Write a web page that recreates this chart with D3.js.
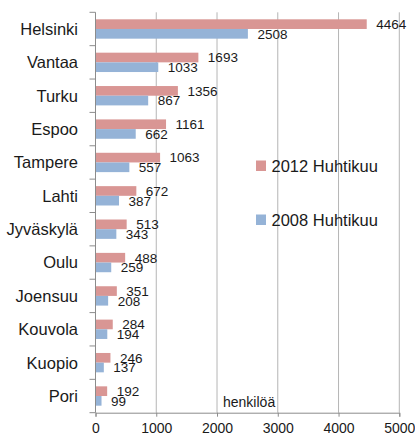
<!DOCTYPE html>
<html>
<head>
<meta charset="utf-8">
<script src="https://d3js.org/d3.v7.min.js"></script>
<style>
  body { margin: 0; background: #fff; }
  text { font-family: "Liberation Sans", Arial, sans-serif; fill: #1a1a1a; }
</style>
</head>
<body>
<div id="chart"></div>
<script>
// Datos del gráfico
var kaupungit = ["Helsinki", "Vantaa", "Turku", "Espoo", "Tampere", "Lahti",
    "Jyväskylä", "Oulu", "Joensuu", "Kouvola", "Kuopio", "Pori"];
var arvot2012 = [4464, 1693, 1356, 1161, 1063, 672, 513, 488, 351, 284, 246, 192];
var arvot2008 = [2508, 1033, 867, 662, 557, 387, 343, 259, 208, 194, 137, 99];
var sarjat = ["2012 Huhtikuu", "2008 Huhtikuu"];
var xTicks = [0, 1000, 2000, 3000, 4000, 5000];

var colors = ["#d99694", "#95b3d7"];

var margin = { top: 12.3, right: 15.7, bottom: 23.3, left: 95.5 },
    width = 415 - margin.left - margin.right,
    height = 436 - margin.top - margin.bottom;

var svg = d3.select("#chart").append("svg")
    .attr("width", 415)
    .attr("height", 436)
    .append("g")
    .attr("transform", "translate(" + margin.left + "," + margin.top + ")");

var x = d3.scaleLinear().domain([0, 5000]).range([0, width]);

var y = d3.scaleBand()
    .domain(kaupungit)
    .range([0, height])
    .paddingInner(0.42)
    .paddingOuter(0.21);

var band = height / kaupungit.length;

// Grid vertical
svg.append("g")
    .selectAll("line")
    .data(xTicks.slice(1))
    .enter().append("line")
    .attr("x1", function (d) { return x(d); })
    .attr("x2", function (d) { return x(d); })
    .attr("y1", 0)
    .attr("y2", height)
    .attr("stroke", "#b5b5b5")
    .attr("stroke-width", 1);

// Barras y etiquetas
var barH = y.bandwidth() / 2;
var series = [arvot2012, arvot2008];
series.forEach(function (vals, s) {
    svg.selectAll(".bar" + s)
        .data(vals)
        .enter().append("rect")
        .attr("class", "bar" + s)
        .attr("x", x(0))
        .attr("y", function (d, i) { return y(kaupungit[i]) + s * barH; })
        .attr("width", function (d) { return x(d) - x(0); })
        .attr("height", barH)
        .attr("fill", colors[s]);

    svg.selectAll(".lab" + s)
        .data(vals)
        .enter().append("text")
        .attr("class", "lab" + s)
        .attr("x", function (d) { return x(d) + 9.5; })
        .attr("y", function (d, i) { return y(kaupungit[i]) + s * barH + barH / 2; })
        .attr("dy", "0.36em")
        .style("font-size", "13.5px")
        .text(function (d) { return d; });
});

// Eje Y
svg.append("line")
    .attr("x1", 0).attr("x2", 0)
    .attr("y1", 0).attr("y2", height)
    .attr("stroke", "#8c8c8c");

svg.append("g")
    .selectAll("line")
    .data(d3.range(kaupungit.length + 1))
    .enter().append("line")
    .attr("x1", -6).attr("x2", 0)
    .attr("y1", function (d) { return d * band; })
    .attr("y2", function (d) { return d * band; })
    .attr("stroke", "#8c8c8c");

svg.append("g")
    .selectAll("text")
    .data(kaupungit)
    .enter().append("text")
    .attr("x", -17.5)
    .attr("y", function (d) { return y(d) + y.bandwidth() / 2; })
    .attr("dy", "0.36em")
    .attr("text-anchor", "end")
    .style("font-size", "16.5px")
    .text(function (d) { return d; });

// Eje X
var xAxis = svg.append("g")
    .attr("transform", "translate(0," + height + ")")
    .call(d3.axisBottom(x).tickValues(xTicks).tickSize(4).tickPadding(6).tickFormat(d3.format("d")));
xAxis.select(".domain").attr("stroke", "#8c8c8c");
xAxis.selectAll(".tick line").attr("stroke", "#8c8c8c");
xAxis.selectAll("text")
    .style("font-size", "14px")
    .style("font-family", "'Liberation Sans', Arial, sans-serif")
    .attr("fill", "#1a1a1a");

// Título del eje
svg.append("text")
    .attr("x", x(2000) + 6)
    .attr("y", height - 6)
    .style("font-size", "14px")
    .text("henkilöä");

// Leyenda
var legend = svg.append("g");
var legY = [166 - margin.top, 220 - margin.top];
sarjat.forEach(function (name, i) {
    legend.append("rect")
        .attr("x", 256 - margin.left)
        .attr("y", legY[i] - 5.5)
        .attr("width", 10)
        .attr("height", 10.5)
        .attr("fill", colors[i]);
    legend.append("text")
        .attr("x", 271.5 - margin.left)
        .attr("y", legY[i])
        .attr("dy", "0.36em")
        .style("font-size", "16.5px")
        .text(name);
});
</script>
</body>
</html>
